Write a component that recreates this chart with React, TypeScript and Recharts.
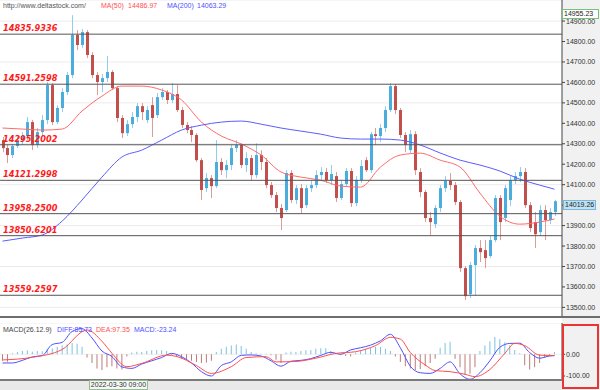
import React from "react";
import {
  ComposedChart,
  Bar,
  Line,
  XAxis,
  YAxis,
  CartesianGrid,
  ReferenceLine,
  Cell,
} from "recharts";

// candles, oldest first
const opens = [
  14318, 14279, 14245, 14289, 14318, 14338, 14406, 14294, 14357, 14416,
  14587, 14406, 14475, 14553, 14636, 14832, 14783, 14846, 14734, 14636,
  14602, 14621, 14651, 14572, 14426, 14352, 14396, 14431, 14484, 14416,
  14489, 14440, 14528, 14553, 14514, 14543, 14465, 14392, 14367, 14343,
  14220, 14083, 14132, 14093, 14211, 14171, 14196, 14279, 14294, 14196,
  14230, 14147, 14245, 14211, 14098, 14049, 13986, 13976, 14157, 14025,
  14083, 14000, 14083, 14098, 14147, 14162, 14123, 14142, 14035, 14103,
  14167, 14010, 14123, 14220, 14171, 14347, 14338, 14377, 14465, 14582,
  14465, 14343, 14269, 14347, 14162, 14064, 13937, 13907, 13986, 14083,
  14118, 14098, 14015, 13692, 13565, 13707, 13790, 13780, 13751, 13829,
  14035, 13937, 14025, 14123, 14142, 14162, 14000, 13917, 13868, 13976,
  13927, 13966,
];
const highs = [
  14333, 14294, 14299, 14333, 14357, 14431, 14416, 14377, 14440, 14602,
  14597, 14489, 14572, 14651, 14929, 14856, 14861, 14856, 14748, 14651,
  14641, 14729, 14660, 14582, 14440, 14416, 14455, 14499, 14499, 14484,
  14528, 14548, 14572, 14563, 14597, 14587, 14480, 14406, 14387, 14352,
  14230, 14157, 14147, 14318, 14230, 14220, 14294, 14318, 14303, 14259,
  14245, 14303, 14269, 14230, 14113, 14064, 14005, 14171, 14171, 14098,
  14103, 14098, 14123, 14171, 14186, 14181, 14196, 14162, 14123, 14181,
  14181, 14142, 14220, 14235, 14357, 14377, 14396, 14484, 14597, 14592,
  14475, 14357, 14367, 14362, 14181, 14074, 13966, 14000, 14098, 14142,
  14157, 14113, 14025, 13702, 13722, 13805, 13829, 13829, 13849, 14049,
  14049, 14098, 14142, 14162, 14186, 14181, 14015, 13966, 14000, 14000,
  13986, 14025,
];
const lows = [
  14259, 14206, 14230, 14279, 14294, 14318, 14269, 14279, 14338, 14396,
  14392, 14396, 14455, 14538, 14621, 14758, 14768, 14719, 14621, 14538,
  14553, 14602, 14563, 14406, 14328, 14338, 14377, 14406, 14416, 14401,
  14333, 14426, 14514, 14494, 14499, 14455, 14377, 14352, 14308, 14211,
  14025, 14064, 14035, 14083, 14147, 14132, 14171, 14259, 14181, 14162,
  14123, 14132, 14171, 14083, 14035, 13966, 13878, 13966, 14010, 14005,
  13961, 13986, 14064, 14083, 14123, 14108, 14098, 14015, 14025, 14093,
  13991, 13995, 14108, 14162, 14157, 14294, 14308, 14357, 14455, 14445,
  14328, 14259, 14255, 14147, 14039, 13917, 13854, 13888, 13966, 14064,
  14074, 14000, 13673, 13536, 13546, 13555, 13722, 13692, 13741, 13819,
  13829, 13917, 13995, 14103, 14113, 13986, 13868, 13790, 13849, 13829,
  13907, 13946,
];
const closes = [
  14279, 14245, 14289, 14318, 14338, 14406, 14294, 14357, 14416, 14587,
  14406, 14475, 14553, 14636, 14832, 14783, 14846, 14734, 14636, 14602,
  14621, 14651, 14572, 14426, 14352, 14396, 14431, 14484, 14455, 14465,
  14426, 14528, 14553, 14514, 14543, 14465, 14392, 14367, 14343, 14220,
  14074, 14132, 14093, 14211, 14171, 14196, 14279, 14294, 14196, 14230,
  14147, 14245, 14211, 14098, 14049, 13986, 13937, 14157, 14025, 14083,
  13986, 14083, 14098, 14147, 14162, 14123, 14152, 14035, 14103, 14167,
  14010, 14123, 14191, 14171, 14347, 14338, 14377, 14465, 14582, 14465,
  14343, 14294, 14347, 14171, 14064, 13937, 13917, 13986, 14083, 14118,
  14098, 14015, 13692, 13555, 13707, 13790, 13770, 13741, 13829, 14035,
  13917, 14083, 14123, 14142, 14162, 14000, 13888, 13858, 13976, 13927,
  13966, 14019.26,
];

// moving averages: [candle index, value]
const ma50: [number, number][] = [
  [0, 14377], [4, 14372], [8, 14367], [12, 14372], [16, 14460], [20, 14533],
  [24, 14582], [28, 14582], [32, 14563], [36, 14514], [40, 14406], [44, 14338],
  [48, 14299], [52, 14245], [56, 14162], [60, 14137], [64, 14122], [68, 14093],
  [72, 14088], [76, 14186], [80, 14245], [84, 14254], [88, 14220], [92, 14186],
  [96, 14059], [100, 13946], [104, 13907], [108, 13917], [111, 13932],
];
const ma200: [number, number][] = [
  [0, 13824], [4, 13839], [8, 13854], [12, 13922], [16, 14025], [20, 14137],
  [24, 14235], [28, 14269], [32, 14318], [36, 14367], [40, 14391], [44, 14406],
  [48, 14411], [52, 14396], [56, 14377], [60, 14362], [64, 14347], [68, 14328],
  [72, 14323], [76, 14323], [80, 14318], [84, 14294], [88, 14255], [92, 14220],
  [96, 14196], [100, 14167], [104, 14127], [108, 14098], [111, 14078],
];

// MACD(26,12,9)
const macdHist = [
  -30, -34, 5, 10, 15, 18, 12, 15, 14, 25, 28, 35, 40, 45, 52, 48, 35, -15,
  -40, -65, -72, -60, -55, -65, -70, -10, 8, 12, 10, 15, 18, 20, 18, 15, -5,
  -12, -20, -25, -30, -35, -40, -38, -30, 10, 25, 35, 40, 45, 38, 25, 10, 5,
  2, 3, -5, -25, -40, 8, 12, 10, 15, 18, 20, 25, 28, 28, 15, 5, -5, -8, -10,
  8, 20, 25, 30, 35, 33, 25, 15, -10, -35, -55, -65, -72, -68, -55, -40, -20,
  30, 52, 58, -20, -60, -95, -90, -60, 15, 40, 60, 80, 70, 55, 40, 20, 5, -50,
  -70, -60, -40, -15, -5, 10,
];
const diff: [number, number][] = [
  [0, -40], [2, -40], [4, -28], [6, -12], [8, -6], [10, 45], [12, 55],
  [14, 105], [16, 118], [18, 75], [20, 15], [22, -10], [24, -58], [26, -65],
  [28, -45], [30, -30], [32, -15], [34, 4], [36, -11], [38, -40], [40, -80],
  [42, -100], [44, -52], [46, -35], [48, -5], [50, -3], [52, -8], [54, -30],
  [56, -55], [58, -32], [60, -28], [62, -20], [64, -5], [66, 9], [68, 0],
  [70, 20], [72, 30], [74, 42], [76, 62], [78, 92], [80, 30], [82, -55],
  [84, -85], [86, -88], [88, -65], [90, -35], [92, -90], [94, -115],
  [96, -85], [98, -30], [100, 32], [102, 50], [104, 51], [106, 8], [108, -18],
  [110, -8], [111, -6],
];
const dea: [number, number][] = [
  [0, -26], [6, -14], [12, 22], [17, 112], [20, 60], [22, 5], [25, -57],
  [28, -42], [33, -4], [35, -10], [39, -52], [42, -88], [46, -57], [49, -15],
  [53, -11], [55, -35], [59, -33], [63, -18], [67, 4], [71, 12], [75, 40],
  [78, 78], [80, 70], [82, 8], [85, -49], [87, -75], [90, -80], [93, -92],
  [95, -103], [98, -70], [101, 4], [103, 50], [105, 40], [108, -4], [111, -6],
];

const levels = [14835.9336, 14591.2598, 14295.2002, 14121.2998, 13958.25, 13850.6201, 13559.2597];
const levelLabels = ["14835.9336", "14591.2598", "14295.2002", "14121.2998", "13958.2500", "13850.6201", "13559.2597"];
const priceTicks = [13500, 13600, 13700, 13800, 13900, 14000, 14100, 14200, 14300, 14400, 14500, 14600, 14700, 14800, 14900];
const macdTicks = [-100, 0];
const lastPrice = "14019.26";
const topPrice = "14955.23";
const dateLabel = "2022-03-30 09:00";

const pick = (pts: [number, number][], i: number) => {
  const p = pts.find((q) => q[0] === i);
  return p ? p[1] : null;
};

const rows = closes.map((c, i) => ({
  i,
  open: opens[i],
  high: highs[i],
  low: lows[i],
  close: c,
  range: [lows[i], highs[i]],
  ma50: pick(ma50, i),
  ma200: pick(ma200, i),
}));

const macdRows = macdHist.map((h, i) => ({
  i,
  hist: h,
  diff: pick(diff, i),
  dea: pick(dea, i),
}));

function Candle(props: any) {
  const { x, y, width, height, payload } = props;
  if (!payload) return null;
  const { open, close, high, low } = payload;
  const top = Math.min(y, y + height);
  const span = Math.abs(height);
  const k = span / Math.max(high - low, 0.001);
  const py = (v: number) => top + (high - v) * k;
  const up = close >= open;
  const cx = Math.round(x + width / 2) + 0.5;
  const bTop = py(Math.max(open, close));
  const bH = Math.max(1, Math.abs(py(open) - py(close)));
  return (
    <g>
      <line x1={cx} x2={cx} y1={top} y2={top + span} stroke={up ? "#93cdec" : "#dc9c9a"} strokeWidth={1} />
      <rect x={cx - 1.5} y={bTop} width={3} height={bH} fill={up ? "#4badde" : "#c24f4c"} />
    </g>
  );
}

const small = { fontSize: 7, fill: "#333", fontFamily: "Liberation Sans" };

export default function App() {
  return (
    <div
      style={{
        position: "fixed",
        left: 0,
        top: 0,
        width: 600,
        height: 390,
        background: "#fff",
        overflow: "hidden",
        fontFamily: "'Liberation Sans', Arial, sans-serif",
      }}
    >
      <div style={{ position: "absolute", left: 562, top: 0, width: 38, height: 390, background: "#f1f1f1" }} />

      <div style={{ position: "absolute", left: 0, top: 0 }}>
        <ComposedChart width={600} height={317} data={rows} margin={{ top: 0, right: 0, bottom: 0, left: 0 }}>
          <CartesianGrid vertical={false} stroke="#ececec" />
          <XAxis dataKey="i" hide padding={{ left: 0, right: 5 }} />
          <YAxis
            orientation="right"
            width={38}
            domain={[13453, 15003]}
            ticks={priceTicks}
            tickSize={3}
            tickMargin={1}
            tick={small}
            stroke="#444"
            tickFormatter={(v: number) => v.toFixed(2)}
            allowDataOverflow
          />
          <Bar dataKey="range" barSize={3} shape={(p: any) => <Candle {...p} />} activeBar={false} isAnimationActive={false} />
          <Line dataKey="ma50" stroke="#ff6a6a" strokeWidth={1} dot={false} activeDot={false} connectNulls type="monotone" isAnimationActive={false} />
          <Line dataKey="ma200" stroke="#5c5cff" strokeWidth={1} dot={false} activeDot={false} connectNulls type="monotone" isAnimationActive={false} />
          {levels.map((lv, n) => (
            <ReferenceLine
              key={lv}
              y={lv}
              stroke="#555"
              strokeWidth={1}
              label={{
                value: levelLabels[n],
                position: "insideBottomLeft",
                offset: 3,
                fill: "#ff1a1a",
                fontSize: 8.2,
                fontWeight: "bold",
                fontStyle: "italic",
                fontFamily: "DejaVu Sans",
              }}
            />
          ))}
        </ComposedChart>
      </div>

      <div style={{ position: "absolute", left: 0, top: 316, width: 600, height: 2, background: "#6d6d6d" }} />

      <div style={{ position: "absolute", left: 0, top: 323 }}>
        <ComposedChart width={600} height={58} data={macdRows} margin={{ top: 0, right: 0, bottom: 0, left: 0 }}>
          <CartesianGrid vertical={false} stroke="#eeeeee" />
          <XAxis dataKey="i" hide padding={{ left: 0, right: 5 }} />
          <YAxis
            orientation="right"
            width={38}
            domain={[-123, 144]}
            ticks={macdTicks}
            tickSize={3}
            tickMargin={1}
            tick={small}
            stroke="#444"
            tickFormatter={(v: number) => v.toFixed(2)}
            allowDataOverflow
          />
          <Bar dataKey="hist" barSize={1} activeBar={false} isAnimationActive={false}>
            {macdRows.map((r) => (
              <Cell key={r.i} fill={r.hist >= 0 ? "#7dc1e2" : "#bd7a78"} />
            ))}
          </Bar>
          <Line dataKey="diff" stroke="#4f4fff" strokeWidth={1} dot={false} activeDot={false} connectNulls type="monotone" isAnimationActive={false} />
          <Line dataKey="dea" stroke="#ff4f4f" strokeWidth={1} dot={false} activeDot={false} connectNulls type="monotone" isAnimationActive={false} />
        </ComposedChart>
      </div>

      <div style={{ position: "absolute", left: 0, top: 379, width: 562, height: 11, background: "#e9e9e9", borderTop: "2px solid #7a7a7a", boxSizing: "border-box" }} />
      <div
        style={{
          position: "absolute",
          left: 89,
          top: 380,
          width: 59,
          height: 10,
          background: "#f6f6f6",
          border: "1px solid #8fbf8f",
          boxSizing: "border-box",
          fontSize: 7,
          lineHeight: "8px",
          color: "#333",
          textAlign: "center",
        }}
      >
        {dateLabel}
      </div>
      <div style={{ position: "absolute", left: 562, top: 324, width: 37, height: 65, border: "2px solid #ee3333", boxSizing: "border-box" }} />

      <div style={{ position: "absolute", left: 3, top: 2, fontSize: 7, lineHeight: "8px", whiteSpace: "nowrap" }}>
        <span style={{ color: "#555" }}>http://www.deltastock.com/</span>
        <span style={{ position: "absolute", left: 98, color: "#ff5050" }}>MA(50)</span>
        <span style={{ position: "absolute", left: 125, color: "#ff5050" }}>14486.97</span>
        <span style={{ position: "absolute", left: 164, color: "#5050ff" }}>MA(200)</span>
        <span style={{ position: "absolute", left: 194, color: "#5050ff" }}>14063.29</span>
      </div>

      <div style={{ position: "absolute", left: 3, top: 326, fontSize: 7, lineHeight: "8px", whiteSpace: "nowrap" }}>
        <span style={{ color: "#444" }}>MACD(26.12.9)</span>
        <span style={{ position: "absolute", left: 54, color: "#4f4fff" }}>DIFF:85.73</span>
        <span style={{ position: "absolute", left: 93, color: "#ff4f4f" }}>DEA:97.35</span>
        <span style={{ position: "absolute", left: 131, color: "#4f4fff" }}>MACD:-23.24</span>
      </div>

      <div
        style={{
          position: "absolute",
          left: 562,
          top: 9,
          width: 37,
          height: 10,
          background: "#fff",
          border: "1px solid #79c079",
          boxSizing: "border-box",
          fontSize: 7,
          lineHeight: "8px",
          color: "#222",
          paddingLeft: 1,
        }}
      >
        {topPrice}
      </div>
      <div
        style={{
          position: "absolute",
          left: 563,
          top: 200,
          width: 33,
          height: 10,
          background: "#bfe2f5",
          border: "1px solid #78b8dc",
          boxSizing: "border-box",
          fontSize: 7,
          lineHeight: "8px",
          color: "#222",
          paddingLeft: 1,
        }}
      >
        {lastPrice}
      </div>
    </div>
  );
}
